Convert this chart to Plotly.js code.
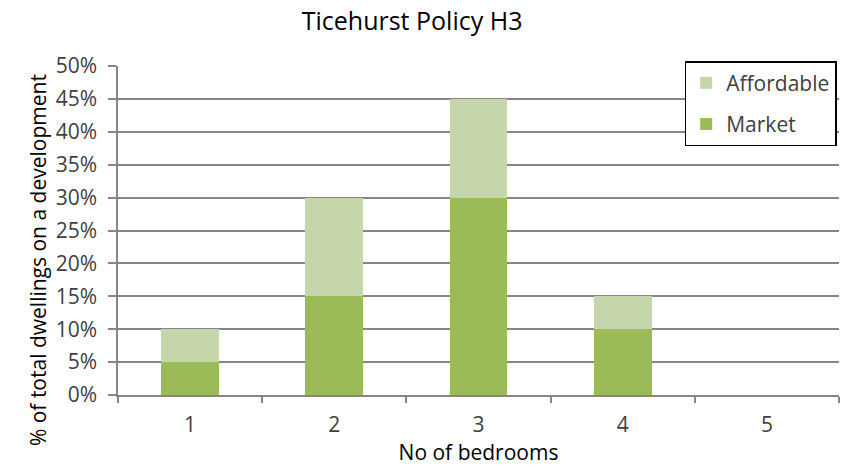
<!DOCTYPE html>
<html>
<head>
<meta charset="utf-8">
<script src="https://cdn.plot.ly/plotly-3.0.1.min.js"></script>
<style>html,body{margin:0;padding:0;background:#fff;}#chart{width:841px;height:467px;}</style>
</head>
<body>
<div id="chart"></div>
<script>
const categories = ['1', '2', '3', '4', '5'];
const market = [0.05, 0.15, 0.30, 0.10, 0];
const affordable = [0.05, 0.15, 0.15, 0.05, 0];
const yTicks = [0, 0.05, 0.10, 0.15, 0.20, 0.25, 0.30, 0.35, 0.40, 0.45, 0.50];
const yTickLabels = ['0%', '5%', '10%', '15%', '20%', '25%', '30%', '35%', '40%', '45%', '50%'];
const yTitle = '% of total dwellings on a development';

const font = '"Open Sans", "DejaVu Sans", sans-serif';
const data = [
  {type: 'bar', name: 'Market', x: categories, y: market, marker: {color: '#9BBB59'}, legendgroup: 'm', legendrank: 2},
  {type: 'bar', name: 'Affordable', x: categories, y: affordable, marker: {color: '#C5D6AB'}, legendgroup: 'a', legendrank: 1}
];
const layout = {
  width: 841, height: 467,
  margin: {l: 118, r: 2, t: 66, b: 72},
  paper_bgcolor: '#fff', plot_bgcolor: '#fff',
  barmode: 'stack', bargap: 0.6,
  font: {family: font, color: '#404040', size: 21},
  title: {text: 'Ticehurst Policy H3', font: {family: font, size: 25, color: '#000'}, x: 0.49, xanchor: 'center', y: 0.955, yanchor: 'middle'},
  xaxis: {
    type: 'category', tickson: 'boundaries', ticks: 'outside', ticklen: 6, tickcolor: '#868686', tickwidth: 1.5,
    showline: true, linecolor: '#868686', linewidth: 1.5, showgrid: false,
    tickfont: {size: 21, color: '#404040'}, ticklabelstandoff: 10,
    title: {text: 'No of bedrooms', font: {size: 21, color: '#000'}, standoff: 2}
  },
  yaxis: {
    range: [0, 0.5], tickvals: yTicks, ticktext: yTickLabels,
    ticks: 'outside', ticklen: 8, tickcolor: '#868686', tickwidth: 1.5,
    showline: true, linecolor: '#868686', linewidth: 1.5,
    showgrid: true, gridcolor: '#868686', gridwidth: 1.5, zeroline: false,
    tickfont: {size: 21, color: '#404040'}, ticklabelstandoff: 7
  },
  annotations: [{
    text: yTitle, xref: 'paper', yref: 'paper', x: -0.111, y: 0.41,
    xanchor: 'center', yanchor: 'middle', textangle: -90, showarrow: false,
    font: {family: font, size: 21, color: '#000'}
  }],
  legend: {
    x: 0.786, xanchor: 'left', y: 1.015, yanchor: 'top',
    bgcolor: '#fff', bordercolor: '#000', borderwidth: 1.5,
    traceorder: 'grouped', tracegroupgap: 11,
    font: {size: 21, color: '#404040'}
  },
  showlegend: true
};
Plotly.newPlot('chart', data, layout, {displayModeBar: false});
</script>
</body>
</html>
